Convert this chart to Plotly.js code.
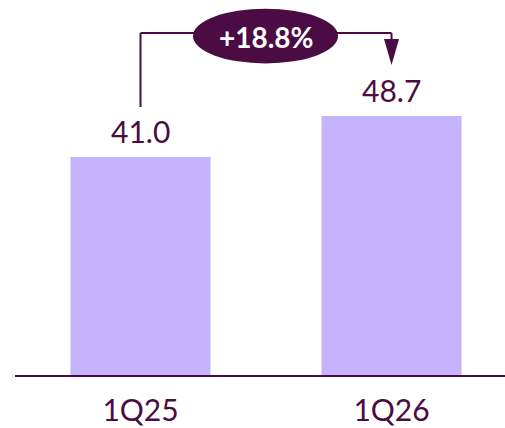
<!DOCTYPE html>
<html>
<head>
<meta charset="utf-8">
<script src="https://cdn.plot.ly/plotly-3.0.1.min.js"></script>
<style>html,body{margin:0;padding:0;background:#fff;}#chart{width:505px;height:428px;}</style>
</head>
<body>
<div id="chart"></div>
<script>
const categories = ["1Q25", "1Q26"];
const values = [41.0, 48.7];
const growthLabel = "+18.8%";

const dark = "#4a0c42";
const barColor = "#c6b3fe";
const xs = categories.map((c, i) => i);

const trace = {
  type: "bar",
  x: xs,
  y: values,
  width: 0.558,
  marker: {color: barColor},
  hoverinfo: "skip"
};

const annotations = values.map((v, i) => ({
  x: i, y: v, xref: "x", yref: "y",
  text: v.toFixed(1),
  showarrow: false,
  yanchor: "bottom",
  yshift: 6,
  font: {family: "Lato, sans-serif", size: 30, color: dark}
}));

annotations.push({
  x: 0.5, y: 63.6, xref: "x", yref: "y",
  text: "<b>" + growthLabel + "</b>",
  showarrow: false,
  font: {family: "Lato, sans-serif", size: 28, color: "#ffffff"}
});

const shapes = [
  {type: "line", xref: "x", yref: "y", x0: 0, x1: 0, y0: 50.4, y1: 64.3, line: {color: dark, width: 2}},
  {type: "line", xref: "x", yref: "y", x0: 0, x1: 1, y0: 64.3, y1: 64.3, line: {color: dark, width: 2}},
  {type: "line", xref: "x", yref: "y", x0: 1, x1: 1, y0: 64.3, y1: 62.5, line: {color: dark, width: 2}},
  {type: "path", xref: "x", yref: "y", path: "M 0.970 63.2 L 1.030 63.2 L 1.0 58.3 Z", fillcolor: dark, line: {color: dark, width: 0}},
  {type: "circle", xref: "x", yref: "y", x0: 0.209, x1: 0.787, y0: 58.6, y1: 68.9, fillcolor: dark, line: {color: dark, width: 0}}
];

const layout = {
  width: 505, height: 428,
  margin: {l: 15, r: 0, t: 0, b: 53},
  paper_bgcolor: "#ffffff",
  plot_bgcolor: "#ffffff",
  showlegend: false,
  xaxis: {
    type: "linear",
    range: [-0.5, 1.452],
    tickvals: xs,
    ticktext: categories,
    showgrid: false, zeroline: false,
    showline: true, linecolor: dark, linewidth: 2,
    ticks: "", ticklabelstandoff: 8,
    tickfont: {family: "Lato, sans-serif", size: 30, color: dark}
  },
  yaxis: {
    range: [0, 70.53],
    visible: false, showgrid: false, zeroline: false
  },
  shapes: shapes,
  annotations: annotations
};

Plotly.newPlot("chart", [trace], layout, {staticPlot: true, displayModeBar: false});
</script>
</body>
</html>
